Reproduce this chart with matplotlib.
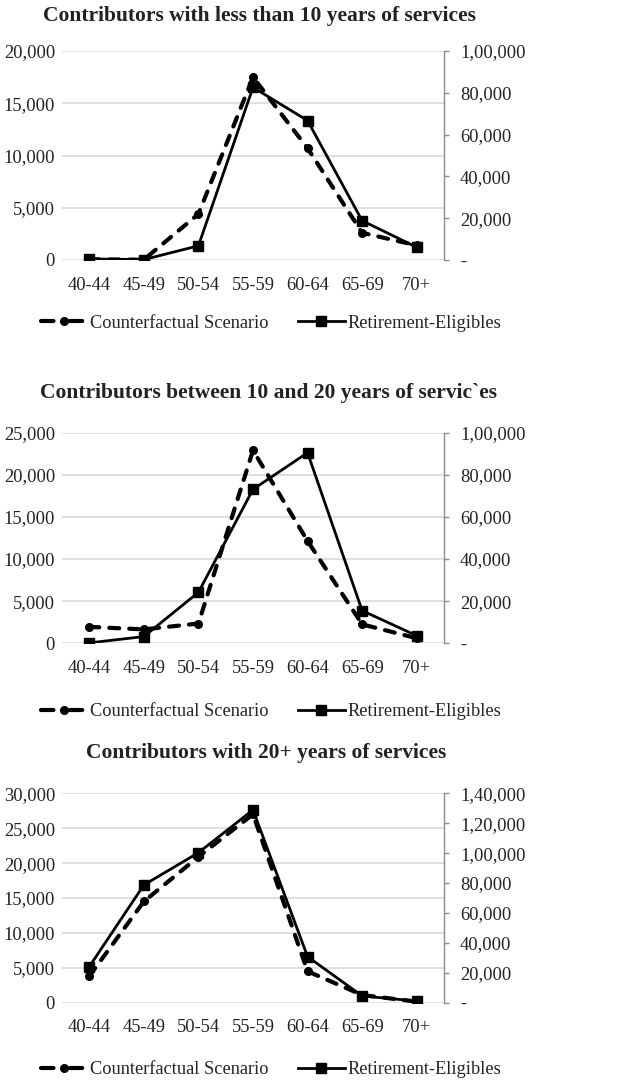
import matplotlib
matplotlib.use("Agg")
import matplotlib.pyplot as plt
from matplotlib.ticker import FuncFormatter
from matplotlib.lines import Line2D

plt.rcParams["font.family"] = ["Liberation Serif", "DejaVu Serif"]

age_groups = ["40-44", "45-49", "50-54", "55-59", "60-64", "65-69", "70+"]

# Counterfactual Scenario (left axis)
cf_lt10 = [60, 30, 4400, 17500, 10700, 2600, 1400]
cf_10to20 = [1950, 1650, 2350, 22900, 12150, 2250, 600]
cf_20plus = [3800, 14500, 20900, 27000, 4500, 1100, 150]

# Retirement-Eligibles (right axis)
re_lt10 = [500, 200, 6800, 82600, 66700, 18800, 6100]
re_10to20 = [200, 3200, 24200, 73100, 90500, 15500, 3600]
re_20plus = [24100, 78700, 100300, 128900, 30800, 4500, 1100]

titles = [
    "Contributors with less than 10 years of services",
    "Contributors between 10 and 20 years of servic`es",
    "Contributors with 20+ years of services",
]
left_max = [20000, 25000, 30000]
left_step = [5000, 5000, 5000]
right_max = [100000, 100000, 140000]
right_step = [20000, 20000, 20000]


def indian_fmt(v, pos=None):
    v = int(round(v))
    if v == 0:
        return "-"
    s = str(v)
    if len(s) <= 3:
        return s
    last3 = s[-3:]
    rest = s[:-3]
    groups = []
    while len(rest) > 2:
        groups.insert(0, rest[-2:])
        rest = rest[:-2]
    if rest:
        groups.insert(0, rest)
    return ",".join(groups) + "," + last3


def comma_fmt(v, pos=None):
    return f"{int(round(v)):,}"


W, H = 617, 1084
fig = plt.figure(figsize=(W / 100, H / 100), dpi=100)

# pixel layout: (top, bottom) of each plot area, title x, title y, legend y
panels = [(51, 260, 259, 16, 323), (432.7, 643.3, 269, 393, 712),
          (793.3, 1002.7, 266, 753, 1070)]
ax_left, ax_right = 62, 444

data = [(cf_lt10, re_lt10), (cf_10to20, re_10to20), (cf_20plus, re_20plus)]
x = list(range(len(age_groups)))

dash_style = dict(color="black", lw=3.0, linestyle=(0, (2.4, 2.4)),
                  dash_capstyle="round", marker="o", markersize=5.5)
solid_style = dict(color="black", lw=2.0, marker="s", markersize=6.5)

for i, ((top, bot, tx, ty, ly), (cf, re)) in enumerate(zip(panels, data)):
    ax = fig.add_axes([ax_left / W, (H - bot) / H, (ax_right - ax_left) / W, (bot - top) / H])
    ax2 = ax.twinx()

    ax.plot(x, cf, zorder=3, **dash_style)
    ax2.plot(x, re, zorder=3, **solid_style)

    ax.set_xlim(-0.5, len(age_groups) - 0.5)
    ax.set_ylim(0, left_max[i])
    ax.set_yticks(range(0, left_max[i] + 1, left_step[i]))
    ax.yaxis.set_major_formatter(FuncFormatter(comma_fmt))
    ax2.set_ylim(0, right_max[i])
    ax2.set_yticks(range(0, right_max[i] + 1, right_step[i]))
    ax2.yaxis.set_major_formatter(FuncFormatter(indian_fmt))

    ax.set_xticks(x)
    ax.set_xticklabels(age_groups)
    ax.grid(axis="y", color="#d9d9d9", lw=1.2)
    ax.set_axisbelow(True)

    for s in ["top", "left", "right", "bottom"]:
        ax.spines[s].set_visible(False)
    for s in ["top", "left", "bottom"]:
        ax2.spines[s].set_visible(False)
    ax2.spines["right"].set_color("#8c8c8c")
    ax2.spines["right"].set_linewidth(1.0)

    ax.tick_params(axis="y", length=0, pad=5, labelsize=13.3, labelcolor="#222222")
    ax.tick_params(axis="x", length=0, pad=12, labelsize=13.3, labelcolor="#222222")
    ax2.tick_params(axis="y", length=3.5, width=1.0, color="#8c8c8c", pad=8,
                    labelsize=13.3, labelcolor="#222222")

    fig.text(tx / W, 1 - ty / H, titles[i], ha="center", va="center",
             fontsize=15.5, fontweight="bold", color="#222222")

    handles = [
        Line2D([], [], color="black", lw=3.0, linestyle=(0, (3.0, 3.9)),
               dash_capstyle="round", marker="o", markersize=5.5),
        Line2D([], [], **solid_style),
    ]
    fig.legend(handles, ["Counterfactual Scenario", "Retirement-Eligibles"],
               loc="center", bbox_to_anchor=(271 / W, 1 - ly / H), ncol=2,
               frameon=False, fontsize=13.2, handlelength=2.55,
               handletextpad=0.15, columnspacing=1.6, labelcolor="#222222")

fig.savefig("out.png", dpi=100)
